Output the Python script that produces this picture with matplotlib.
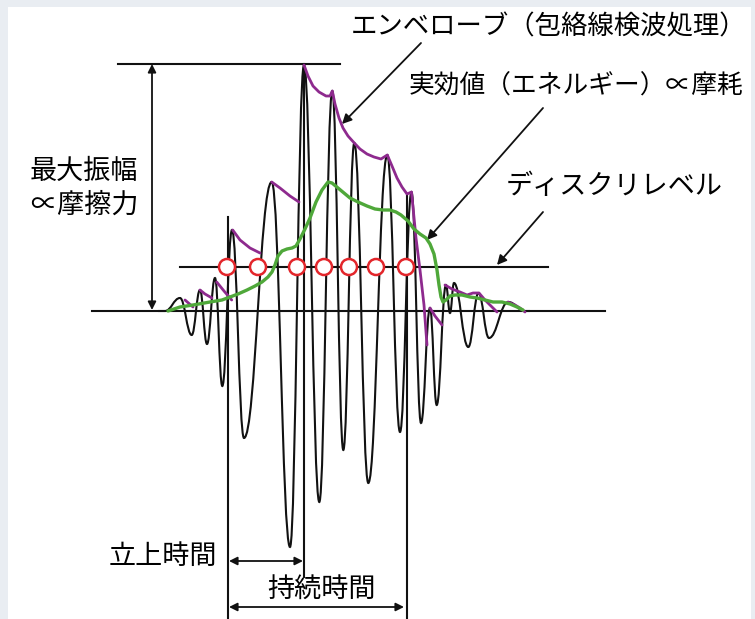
import matplotlib
matplotlib.use("Agg")
import matplotlib.pyplot as plt
from matplotlib.path import Path
from matplotlib.patches import PathPatch, Rectangle, Circle

plt.rcParams["font.family"] = ["Noto Sans CJK JP", "DejaVu Sans"]

# ---- AE burst waveform: successive extrema (time, amplitude) ----
wave_t = [158, 165, 180, 191.7, 200, 207, 215, 222.3, 232, 244, 271.7, 290, 304,
          319.3, 332.3, 343.3, 354.3, 368.3, 387.3, 400, 411.5, 421, 430, 436.7,
          446, 450, 454, 468.3, 478.5, 489, 508.3, 525, 530]
wave_a = [0, 0, 13, -24, 21, -33, 33, -75, 81, -127, 129, -236, 246,
          -191, 220, -139, 168, -172, 156, -121, 119, -112, 3, -94,
          26, -2, 28, -36, 18, -27, 9, 0, 0]

# ---- envelope (peak detection) pieces ----
env_pieces = [
    ([185, 193], [11, 4]),
    ([200, 205, 212], [21, 17, 13]),
    ([216.7, 224, 231.7], [29, 20, 11]),
    ([232.7, 240, 250, 260], [81, 71, 63, 58]),
    ([271.7, 280, 290, 299], [129, 123, 115, 109]),
    ([304, 308, 313, 319, 326, 330, 332.3, 335, 339, 343, 348, 354.3, 360, 367,
      374, 381, 387.3, 392, 397, 402, 407, 411.5, 416, 420, 424, 427],
     [246, 235, 225, 219, 215, 215, 220, 207, 193, 183, 175, 168, 162, 157,
      154, 152, 156, 145, 133, 124, 117, 119, 73, 41, 6, -34]),
    ([430, 435, 442], [3, -5, -14]),
    ([445, 452, 460, 467, 473, 479, 485, 492, 497], [26, 22, 19, 16, 18, 18, 11, 4, -1]),
    ([508, 515, 520, 525], [9, 6, 3, -1]),
]

# ---- RMS (energy) curve ----
rms_t = [168, 180, 193, 210, 222, 230, 238, 247, 255, 262, 268, 272, 275, 278, 282,
         287, 292, 296, 300, 305, 310, 316, 322, 328, 332, 338, 344, 350, 358, 367,
         375, 383, 390, 396, 401, 408, 414, 420, 426, 430, 434, 437, 439, 441, 443,
         446, 450, 455, 462, 470, 477, 485, 493, 502, 510, 517, 523]
rms_a = [0, 4, 6, 9, 11, 14, 17, 21, 25, 29, 34, 39, 46, 55, 60,
         62, 63, 65, 72, 82, 93, 109, 121, 129, 128, 123, 118, 113, 109, 105,
         102, 101, 101, 99, 96, 90, 82, 77, 73, 67, 57, 41, 26, 14, 9,
         11, 15, 16, 16, 14, 13, 11, 9, 9, 7, 4, 1]

# ---- threshold crossings counted at the discrimination level ----
threshold = 44
count_t = [227, 258, 297, 324, 349, 376, 406]

# ---- reference levels and times ----
peak_amp = 247
t_start, t_peak, t_end = 228, 304, 407

BLACK = "#111111"
PURPLE = "#8e2a8e"
GREEN = "#4fa83a"
RED = "#e3262b"

W, H = 755, 619
fig = plt.figure(figsize=(W / 100, H / 100), dpi=100, facecolor="#e9edf2")
ax = fig.add_axes([0, 0, 1, 1])
ax.set_xlim(0, W)
ax.set_ylim(-308, 311)
ax.axis("off")
ax.patch.set_alpha(0)
# white panel inside the grey frame
ax.add_patch(Rectangle((8 / W, 0), (751 - 8) / W, (H - 7) / H,
                       transform=ax.transAxes, facecolor="white",
                       edgecolor="none", zorder=0))

# waveform as smooth cubic segments with horizontal tangents at each extremum
k = 0.42
verts = [(wave_t[0], wave_a[0])]
codes = [Path.MOVETO]
for i in range(1, len(wave_t)):
    t0, a0, t1, a1 = wave_t[i - 1], wave_a[i - 1], wave_t[i], wave_a[i]
    d = t1 - t0
    verts += [(t0 + k * d, a0), (t1 - k * d, a1), (t1, a1)]
    codes += [Path.CURVE4] * 3
ax.add_patch(PathPatch(Path(verts, codes), facecolor="none", edgecolor=BLACK,
                       lw=1.5, zorder=3))

for tt, aa in env_pieces:
    ax.plot(tt, aa, color=PURPLE, lw=2.0, solid_capstyle="round", zorder=4)

ax.plot(rms_t, rms_a, color=GREEN, lw=2.4, solid_capstyle="round", zorder=5)

# reference lines
ax.plot([92, 605], [0, 0], color=BLACK, lw=1.5, zorder=2)
ax.plot([118, 340], [peak_amp, peak_amp], color=BLACK, lw=1.5, zorder=2)
ax.plot([180, 548], [threshold, threshold], color=BLACK, lw=1.5, zorder=2)
ax.plot([t_start, t_start], [94, -308], color=BLACK, lw=1.5, zorder=2)
ax.plot([t_peak, t_peak], [peak_amp, -266], color=BLACK, lw=1.5, zorder=2)
ax.plot([t_end, t_end], [116, -308], color=BLACK, lw=1.5, zorder=2)

for tc in count_t:
    ax.add_patch(Circle((tc, threshold), 8, facecolor="white", edgecolor=RED,
                        lw=1.8, zorder=6))

arrow = dict(arrowstyle="-|>", color=BLACK, lw=1.3, mutation_scale=14,
             shrinkA=0, shrinkB=0)
darrow = dict(arrowstyle="<|-|>", color=BLACK, lw=1.3, mutation_scale=12,
              shrinkA=0, shrinkB=0)

# max amplitude, rise time, duration
ax.annotate("", xy=(152, peak_amp), xytext=(152, 1), arrowprops=darrow, zorder=7)
ax.annotate("", xy=(t_peak - 1, -250), xytext=(t_start + 1, -250), arrowprops=darrow)
ax.annotate("", xy=(t_end - 3, -296), xytext=(t_start + 1, -296), arrowprops=darrow)

# leaders from labels
ax.annotate("", xy=(342, 187), xytext=(421, 268), arrowprops=arrow)
ax.annotate("", xy=(427, 71), xytext=(543, 203), arrowprops=arrow)
ax.annotate("", xy=(497, 46), xytext=(543, 99), arrowprops=arrow)

fs = 19.5
ax.text(549, 284, "エンベローブ（包絡線検波処理）", fontsize=19, ha="center", va="center")
ax.text(576, 224, "実効値（エネルギー）∝摩耗", fontsize=18.5, ha="center", va="center")
ax.text(614, 125, "ディスクリレベル", fontsize=fs, ha="center", va="center")
ax.text(84, 140, "最大振幅", fontsize=fs, ha="center", va="center")
ax.text(84, 106, "∝摩擦力", fontsize=fs, ha="center", va="center")
ax.text(163, -245, "立上時間", fontsize=fs, ha="center", va="center")
ax.text(321, -278, "持続時間", fontsize=fs, ha="center", va="center")

fig.savefig("out.png", dpi=100, facecolor=fig.get_facecolor())
